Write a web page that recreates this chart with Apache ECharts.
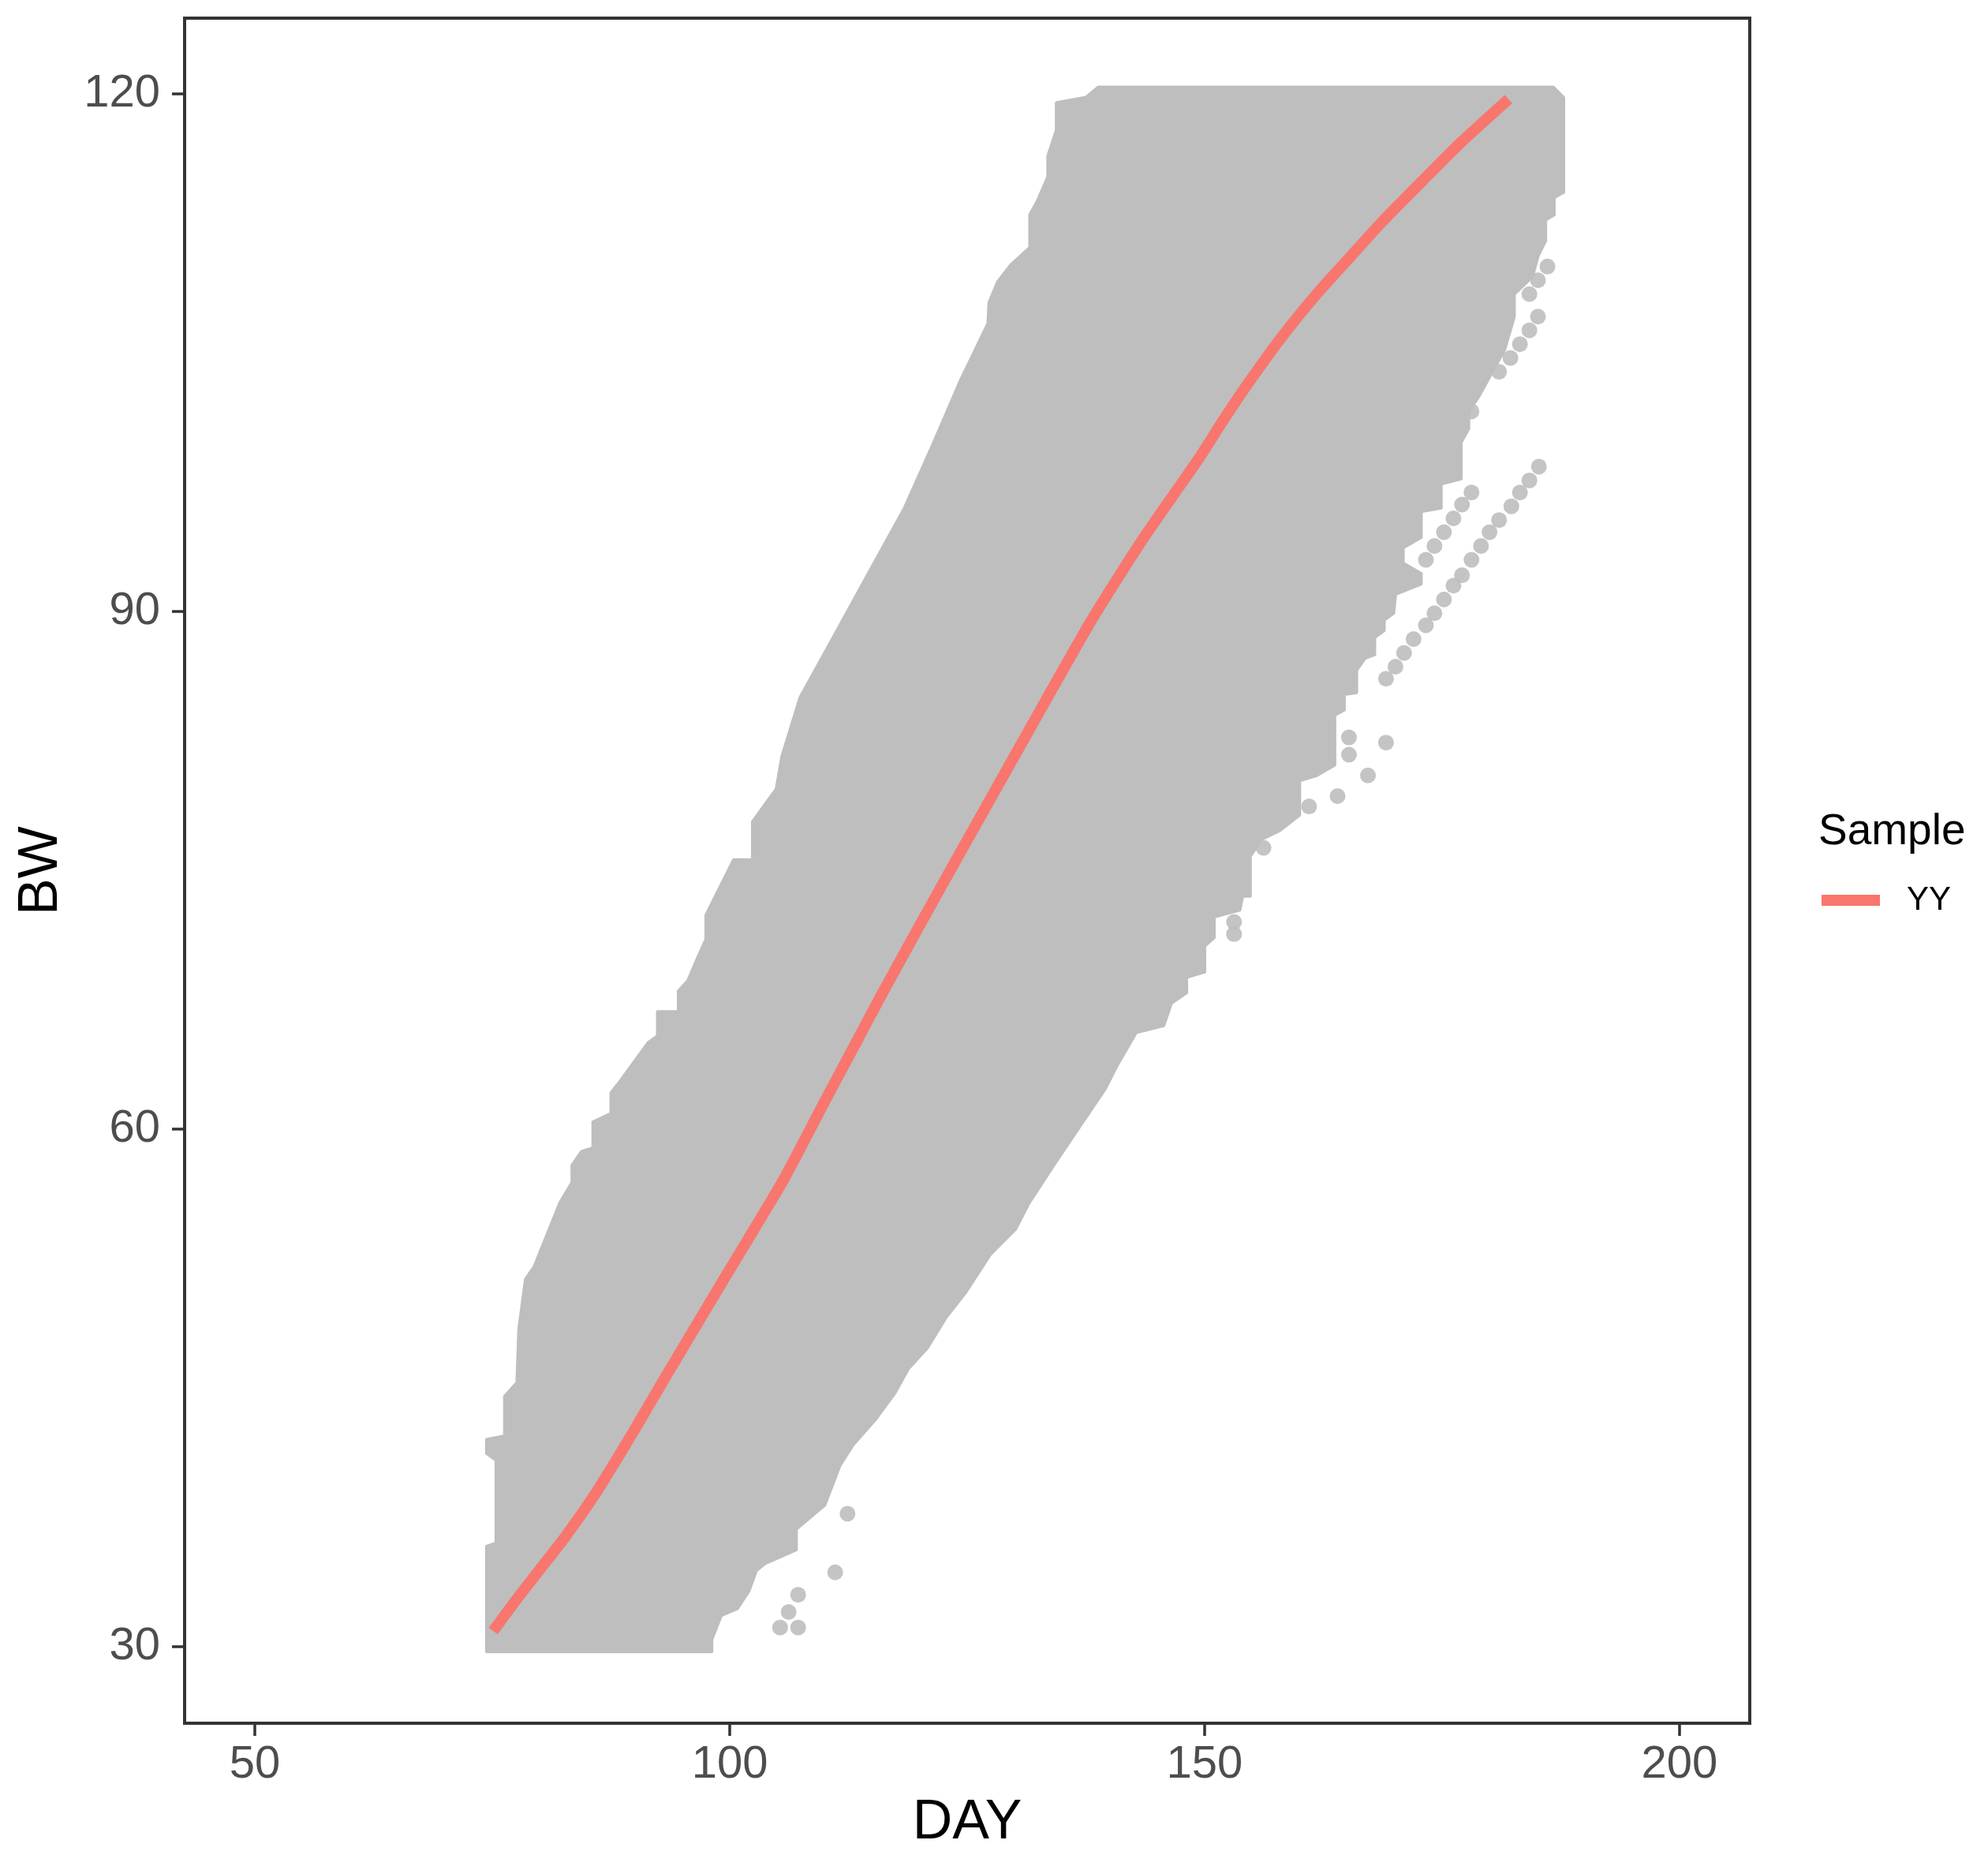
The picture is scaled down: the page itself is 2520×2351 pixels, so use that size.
<!DOCTYPE html>
<html>
<head>
<meta charset="utf-8">
<script src="https://cdn.jsdelivr.net/npm/echarts@6/dist/echarts.min.js"></script>
<style>
  html, body { margin: 0; padding: 0; background: #fff; }
  #main { width: 2520px; height: 2351px; }
</style>
</head>
<body>
<div id="main"></div>
<script>
// outline of the grey point cloud (DAY, BW), clockwise
var cloudDay = [138.8, 186.7, 187.8, 187.8, 186.8, 186.8, 185.9, 185.9, 185.1, 184.5, 182.6, 182.6, 181.6, 180.3, 178.9,
    177.8, 177.8, 177.0, 177.0, 174.9, 174.9, 172.8, 172.8, 170.9, 170.9, 172.8, 172.8, 170.1, 169.9, 168.9, 168.9,
    167.9, 167.9, 166.9, 166.0, 166.0, 164.7, 164.7, 163.7, 163.7, 161.8, 160.0, 160.0, 157.9, 156.0, 154.8, 154.8,
    154.0, 153.7, 151.0, 151.0, 150.0, 150.0, 148.1, 148.1, 146.5, 145.7, 142.8, 140.8, 139.5, 136.8, 134.1, 131.5,
    130.1, 127.4, 124.8, 122.8, 120.8, 118.8, 117.4, 115.4, 113.0, 111.6, 110.0, 107.0, 107.0, 103.7, 102.8, 102.0,
    100.8, 99.1, 98.1, 98.1, 74.4, 74.4, 75.4, 75.4, 74.4, 74.4, 76.3, 76.3, 77.6, 77.8, 78.5, 79.4, 82.1, 83.4, 83.4,
    84.4, 85.6, 85.6, 87.5, 87.5, 88.5, 91.4, 92.4, 92.4, 94.6, 94.6, 95.6, 96.6, 97.5, 97.5, 98.5, 99.5, 100.4, 102.4,
    102.4, 103.7, 104.9, 105.5, 107.4, 111.1, 114.8, 118.4, 121.4, 124.3, 127.2, 127.3, 128.2, 129.6, 131.6, 131.6,
    132.4, 133.5, 133.5, 134.4, 134.4, 137.5];
var cloudBW = [120.4, 120.4, 119.8, 114.3, 114.0, 113.0, 112.7, 111.5, 110.6, 109.4, 108.4, 107.1, 105.2, 103.9, 102.5,
    101.6, 100.6, 99.8, 97.7, 97.4, 96.0, 95.8, 94.3, 93.7, 92.8, 92.2, 91.6, 91.0, 89.9, 89.5, 88.9,
    88.5, 87.5, 87.3, 86.6, 85.3, 85.2, 84.3, 84.0, 81.1, 80.5, 80.2, 78.2, 77.3, 76.8, 75.8, 73.5,
    73.5, 72.7, 72.3, 71.1, 70.6, 69.1, 68.8, 67.9, 67.3, 66.0, 65.6, 63.7, 62.3, 60.1, 57.9, 55.7,
    54.2, 52.7, 50.5, 49.1, 47.3, 46.1, 44.7, 43.2, 41.7, 40.5, 38.2, 36.8, 35.6, 34.8, 34.4, 33.2,
    32.2, 31.8, 30.4, 29.7, 29.7, 35.8, 36.0, 40.8, 41.2, 42.0, 42.2, 44.5, 45.3, 48.4, 51.3, 52.0, 55.7, 56.9, 57.9,
    58.7, 58.9, 60.4, 60.9, 62.1, 62.8, 65.0, 65.4, 66.8, 66.8, 68.0, 68.6, 69.9, 71.0, 72.4, 73.5, 74.6, 75.6, 75.6,
    77.8, 78.8, 79.7, 81.6, 85.0, 88.7, 92.4, 96.0, 99.7, 103.4, 106.7, 107.9, 109.1, 110.1, 111.1, 113.0,
    113.8, 115.2, 116.4, 117.9, 119.5, 119.8];

// single points that stand apart from the cloud
var dotDay = [185.2, 184.2, 183.2, 182.3, 181.0, 180.0, 179.1, 178.1, 177.1, 176.2, 175.2, 174.2, 173.3, 172.0, 171.0, 170.1, 169.1,
    178.1, 177.1, 176.2, 175.2, 174.2, 173.3,
    186.1, 185.1, 184.2, 185.1, 184.2, 183.2, 182.2, 181.0, 178.1,
    169.1, 167.2, 164.0, 161.0, 165.2, 165.2, 156.2, 153.1, 153.1,
    107.2, 106.2, 105.3, 107.2, 111.1, 112.4];
var dotBW = [98.4, 97.6, 96.9, 96.1, 95.3, 94.6, 93.8, 93.0, 92.1, 91.5, 90.7, 89.9, 89.2, 88.4, 87.6, 86.8, 86.1,
    96.9, 96.2, 95.4, 94.6, 93.8, 93.0,
    110.0, 109.2, 108.4, 107.1, 106.3, 105.5, 104.7, 103.9, 101.6,
    82.4, 80.5, 79.3, 78.7, 82.7, 81.7, 76.3, 72.0, 71.3,
    33.0, 32.0, 31.1, 31.1, 34.3, 37.7];

// YY line
var lineDay = [75.1, 77.1, 79.2, 82.6, 85.9, 89.8, 93.1, 99.5, 105.6, 110.0, 113.0, 116.1, 121.4, 127.0, 132.0,
    138.1, 143.5, 149.3, 152.1, 154.8, 158.1, 161.8, 165.4, 168.7, 173.0, 177.0, 182.0];
var lineBW = [30.9, 32.4, 33.9, 36.3, 38.9, 42.4, 45.5, 51.4, 57.0, 61.6, 64.7, 67.9, 73.2, 78.7, 83.6,
    89.5, 94.2, 98.8, 101.2, 103.4, 105.9, 108.4, 110.6, 112.6, 115.0, 117.2, 119.7];

var xTicks = [50, 100, 150, 200];
var yTicks = [30, 60, 90, 120];

var FONT = '"Liberation Sans", Arial, sans-serif';

var chart = echarts.init(document.getElementById('main'));

option = {
    backgroundColor: '#ffffff',
    animation: false,
    title: {
        text: 'Sample',
        left: 2305,
        top: 1027,
        padding: 0,
        textStyle: { fontFamily: FONT, fontSize: 55, fontWeight: 'normal', color: '#000' }
    },
    legend: {
        data: [{ name: 'YY', icon: 'rect' }],
        left: 2309,
        top: 1120,
        padding: 0,
        itemWidth: 74,
        itemHeight: 14,
        textStyle: { fontFamily: FONT, fontSize: 42, color: '#000', padding: [0, 0, 0, 29] }
    },
    grid: {
        left: 234,
        right: 302,
        top: 23,
        bottom: 167,
        show: true,
        borderColor: '#333333',
        borderWidth: 4,
        backgroundColor: 'transparent'
    },
    xAxis: {
        type: 'value',
        min: 42.6,
        max: 207.4,
        name: 'DAY',
        nameLocation: 'middle',
        nameGap: 92,
        nameTextStyle: { fontFamily: FONT, fontSize: 70, color: '#000' },
        splitLine: { show: false },
        axisLine: { show: false },
        axisTick: { show: true, length: 16, customValues: xTicks, lineStyle: { color: '#333', width: 3.5 } },
        axisLabel: { customValues: xTicks, margin: 24, fontFamily: FONT, fontSize: 58, color: '#4d4d4d' }
    },
    yAxis: {
        type: 'value',
        min: 25.55,
        max: 124.4,
        name: 'BW',
        nameLocation: 'middle',
        nameGap: 146,
        nameTextStyle: { fontFamily: FONT, fontSize: 70, color: '#000' },
        splitLine: { show: false },
        axisLine: { show: false },
        axisTick: { show: true, length: 16, customValues: yTicks, lineStyle: { color: '#333', width: 3.5 } },
        axisLabel: { customValues: yTicks, margin: 31, fontFamily: FONT, fontSize: 58, color: '#4d4d4d' }
    },
    series: [
        {
            name: 'cloud',
            type: 'custom',
            silent: true,
            clip: true,
            z: 1,
            data: cloudDay.map(function (d, i) { return [d, cloudBW[i]]; }),
            renderItem: function (params, api) {
                if (params.dataIndex !== 0) return;
                var pts = cloudDay.map(function (d, i) { return api.coord([d, cloudBW[i]]); });
                return {
                    type: 'polygon',
                    shape: { points: pts },
                    style: { fill: '#bebebe', stroke: '#bebebe', lineWidth: 4, lineJoin: 'round' }
                };
            }
        },
        {
            name: 'points',
            type: 'scatter',
            silent: true,
            z: 2,
            symbolSize: 20,
            itemStyle: { color: '#bebebe', opacity: 0.9 },
            data: dotDay.map(function (d, i) { return [d, dotBW[i]]; })
        },
        {
            name: 'YY',
            type: 'line',
            z: 3,
            showSymbol: false,
            smooth: 0.2,
            color: '#F8766D',
            lineStyle: { width: 14, color: '#F8766D' },
            data: lineDay.map(function (d, i) { return [d, lineBW[i]]; })
        }
    ]
};

chart.setOption(option);
</script>
</body>
</html>
